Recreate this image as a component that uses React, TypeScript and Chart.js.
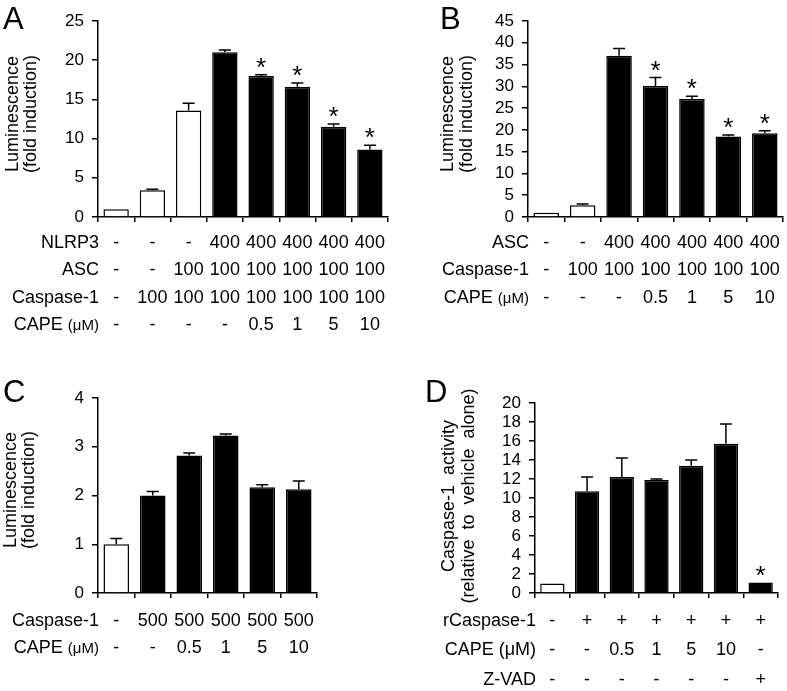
import React, { useEffect, useRef } from 'react';
import { Chart, registerables } from 'chart.js';

Chart.register(...registerables);

const FONT = '"Liberation Sans", Arial, Helvetica, sans-serif';

// ---------- Panel A ----------
const aCategories = ['1', '2', '3', '4', '5', '6', '7', '8'];
const aValues = [1.0, 3.4, 13.6, 21.0, 18.0, 16.6, 11.5, 8.6];
const aErrors = [0, 0.15, 0.9, 0.3, 0.15, 0.5, 0.35, 0.55];
const aFilled = [false, false, false, true, true, true, true, true];
const aStars = [false, false, false, false, true, true, true, true];
const aNLRP3 = ['-', '-', '-', '400', '400', '400', '400', '400'];
const aASC = ['-', '-', '100', '100', '100', '100', '100', '100'];
const aCasp = ['-', '100', '100', '100', '100', '100', '100', '100'];
const aCAPE = ['-', '-', '-', '-', '0.5', '1', '5', '10'];

// ---------- Panel B ----------
const bCategories = ['1', '2', '3', '4', '5', '6', '7'];
const bValues = [1.0, 2.7, 37.0, 30.1, 27.1, 18.5, 19.2];
const bErrors = [0, 0.3, 1.7, 1.9, 0.6, 0.3, 0.6];
const bFilled = [false, false, true, true, true, true, true];
const bStars = [false, false, false, true, true, true, true];
const bASC = ['-', '-', '400', '400', '400', '400', '400'];
const bCasp = ['-', '100', '100', '100', '100', '100', '100'];
const bCAPE = ['-', '-', '-', '0.5', '1', '5', '10'];

// ---------- Panel C ----------
const cCategories = ['1', '2', '3', '4', '5', '6'];
const cValues = [1.0, 2.0, 2.82, 3.23, 2.17, 2.13];
const cErrors = [0.12, 0.08, 0.05, 0.03, 0.05, 0.17];
const cFilled = [false, true, true, true, true, true];
const cStars = [false, false, false, false, false, false];
const cCasp = ['-', '500', '500', '500', '500', '500'];
const cCAPE = ['-', '-', '0.5', '1', '5', '10'];

// ---------- Panel D ----------
const dCategories = ['1', '2', '3', '4', '5', '6', '7'];
const dValues = [1.0, 10.7, 12.2, 11.9, 13.4, 15.7, 1.1];
const dErrors = [0, 1.5, 2.0, 0.1, 0.6, 2.1, 0];
const dFilled = [false, true, true, true, true, true, true];
const dStars = [false, false, false, false, false, false, true];
const dRCasp = ['-', '+', '+', '+', '+', '+', '+'];
const dCAPE = ['-', '-', '0.5', '1', '5', '10', '-'];
const dZVAD = ['-', '-', '-', '-', '-', '-', '+'];

type Row = { label: string; sub?: string; values: string[] };

interface PanelSpec {
  letter: string;
  letterPos: [number, number];
  left: number;
  top: number;
  width: number;
  height: number;
  area: { left: number; right: number; top: number; bottom: number };
  categories: string[];
  values: number[];
  errors: number[];
  filled: boolean[];
  stars: boolean[];
  yMax: number;
  yStep: number;
  rows: Row[];
  rowOffsets: number[];
  titleLines: string[];
  titleX: number[];
  titleY: number;
}

const panels: PanelSpec[] = [
  {
    letter: 'A', letterPos: [3, 3],
    left: 0, top: 0, width: 395, height: 345,
    area: { left: 98, right: 388, top: 21, bottom: 217 },
    categories: aCategories, values: aValues, errors: aErrors, filled: aFilled, stars: aStars,
    yMax: 25, yStep: 5,
    rows: [
      { label: 'NLRP3', values: aNLRP3 },
      { label: 'ASC', values: aASC },
      { label: 'Caspase-1', values: aCasp },
      { label: 'CAPE ', sub: '(μM)', values: aCAPE },
    ],
    rowOffsets: [26, 53.5, 81, 108],
    titleLines: ['Luminescence', '(fold induction)'], titleX: [13, 31], titleY: 114,
  },
  {
    letter: 'B', letterPos: [440, 3],
    left: 400, top: 0, width: 387, height: 345,
    area: { left: 128, right: 383, top: 21, bottom: 217 },
    categories: bCategories, values: bValues, errors: bErrors, filled: bFilled, stars: bStars,
    yMax: 45, yStep: 5,
    rows: [
      { label: 'ASC', values: bASC },
      { label: 'Caspase-1', values: bCasp },
      { label: 'CAPE ', sub: '(μM)', values: bCAPE },
    ],
    rowOffsets: [26, 53.5, 81],
    titleLines: ['Luminescence', '(fold induction)'], titleX: [48, 67], titleY: 114,
  },
  {
    letter: 'C', letterPos: [3, 376],
    left: 0, top: 350, width: 395, height: 341,
    area: { left: 98, right: 317, top: 48, bottom: 243 },
    categories: cCategories, values: cValues, errors: cErrors, filled: cFilled, stars: cStars,
    yMax: 4, yStep: 1,
    rows: [
      { label: 'Caspase-1', values: cCasp },
      { label: 'CAPE ', sub: '(μM)', values: cCAPE },
    ],
    rowOffsets: [28, 55],
    titleLines: ['Luminescence', '(fold induction)'], titleX: [11, 29], titleY: 140,
  },
  {
    letter: 'D', letterPos: [425, 376],
    left: 400, top: 350, width: 387, height: 341,
    area: { left: 135, right: 378, top: 53, bottom: 243 },
    categories: dCategories, values: dValues, errors: dErrors, filled: dFilled, stars: dStars,
    yMax: 20, yStep: 2,
    rows: [
      { label: 'rCaspase-1', values: dRCasp },
      { label: 'CAPE (μM)', values: dCAPE },
      { label: 'Z-VAD', values: dZVAD },
    ],
    rowOffsets: [28, 57, 87],
    titleLines: ['Caspase-1  activity', '(relative  to  vehicle  alone)'], titleX: [49, 69], titleY: 146,
  },
];

const errorBarPlugin = {
  id: 'errorBars',
  afterDatasetsDraw(chart: any) {
    const ctx = chart.ctx;
    const ds = chart.data.datasets[0];
    const meta = chart.getDatasetMeta(0);
    const y = chart.scales.y;
    ctx.save();
    ctx.strokeStyle = '#000';
    ctx.fillStyle = '#000';
    ctx.lineWidth = 1.5;
    meta.data.forEach((bar: any, i: number) => {
      const e = ds.errors[i] || 0;
      const topVal = ds.data[i] + e;
      const top = y.getPixelForValue(topVal);
      if (e > 0) {
        ctx.beginPath();
        ctx.moveTo(bar.x, bar.y);
        ctx.lineTo(bar.x, top);
        ctx.moveTo(bar.x - 6, top);
        ctx.lineTo(bar.x + 6, top);
        ctx.stroke();
      }
      if (ds.stars[i]) {
        ctx.font = `26px ${FONT}`;
        ctx.textAlign = 'center';
        ctx.textBaseline = 'alphabetic';
        ctx.fillText('*', bar.x, top + 1);
      }
    });
    ctx.restore();
  },
};

const tablePlugin = {
  id: 'conditionTable',
  afterDraw(chart: any, _args: any, opts: any) {
    const ctx = chart.ctx;
    const x = chart.scales.x;
    const area = chart.chartArea;
    const rows: Row[] = opts.rows;
    const offsets: number[] = opts.offsets;
    ctx.save();
    ctx.fillStyle = '#000';
    ctx.textBaseline = 'middle';
    rows.forEach((row, r) => {
      const yy = area.bottom + offsets[r];
      const rightX = area.left + 1;
      ctx.font = `18px ${FONT}`;
      const w1 = ctx.measureText(row.label).width;
      let w2 = 0;
      if (row.sub) {
        ctx.font = `15px ${FONT}`;
        w2 = ctx.measureText(row.sub).width;
      }
      const start = rightX - w1 - w2;
      ctx.textAlign = 'left';
      ctx.font = `18px ${FONT}`;
      ctx.fillText(row.label, start, yy);
      if (row.sub) {
        ctx.font = `15px ${FONT}`;
        ctx.fillText(row.sub, start + w1, yy + 1);
      }
      ctx.font = `18px ${FONT}`;
      ctx.textAlign = 'center';
      row.values.forEach((v, i) => {
        ctx.fillText(v, x.getPixelForValue(i), yy);
      });
    });
    ctx.restore();
  },
};

const yTitlePlugin = {
  id: 'yTitle',
  afterDraw(chart: any, _args: any, opts: any) {
    const ctx = chart.ctx;
    ctx.save();
    ctx.fillStyle = '#000';
    ctx.font = `18px ${FONT}`;
    ctx.textAlign = 'center';
    ctx.textBaseline = 'middle';
    (opts.lines as string[]).forEach((line, i) => {
      ctx.save();
      ctx.translate(opts.xs[i], opts.y);
      ctx.rotate(-Math.PI / 2);
      ctx.fillText(line, 0, 0);
      ctx.restore();
    });
    ctx.restore();
  },
};

function Panel({ spec }: { spec: PanelSpec }) {
  const ref = useRef<HTMLCanvasElement>(null);
  useEffect(() => {
    if (!ref.current) return;
    const a = spec.area;
    const chart = new Chart(ref.current, {
      type: 'bar',
      data: {
        labels: spec.categories,
        datasets: [
          {
            data: spec.values,
            backgroundColor: spec.filled.map((f) => (f ? '#000' : '#fff')),
            borderColor: '#000',
            borderWidth: 1.5,
            barPercentage: 0.7,
            categoryPercentage: 1,
            errors: spec.errors,
            stars: spec.stars,
          } as any,
        ],
      },
      options: {
        responsive: false,
        animation: false,
        devicePixelRatio: 1,
        layout: { padding: { left: 0, top: a.top, right: spec.width - a.right, bottom: 0 } },
        plugins: {
          legend: { display: false },
          tooltip: { enabled: false },
          conditionTable: { rows: spec.rows, offsets: spec.rowOffsets },
          yTitle: { lines: spec.titleLines, xs: spec.titleX, y: spec.titleY },
        } as any,
        scales: {
          x: {
            grid: { drawOnChartArea: false, drawTicks: true, tickLength: 5, color: '#000', lineWidth: 1.5 },
            border: { color: '#000', width: 1.5 },
            ticks: { display: false },
            afterFit: (s: any) => {
              s.height = spec.height - a.bottom;
            },
          },
          y: {
            min: 0,
            max: spec.yMax,
            ticks: {
              stepSize: spec.yStep,
              autoSkip: false,
              color: '#000',
              font: { family: FONT, size: 17 },
              padding: 8,
            },
            grid: { drawOnChartArea: false, drawTicks: true, tickLength: 6, color: '#000', lineWidth: 1.5 },
            border: { color: '#000', width: 1.5 },
            afterFit: (s: any) => {
              s.width = a.left;
            },
          },
        },
      },
      plugins: [errorBarPlugin, tablePlugin, yTitlePlugin],
    });
    return () => chart.destroy();
  }, [spec]);

  return (
    <>
      <canvas
        ref={ref}
        width={spec.width}
        height={spec.height}
        style={{ position: 'absolute', left: spec.left, top: spec.top, width: spec.width, height: spec.height }}
      />
      <div
        style={{
          position: 'absolute',
          left: spec.letterPos[0],
          top: spec.letterPos[1],
          fontFamily: FONT,
          fontSize: 31,
          lineHeight: 1,
          color: '#000',
        }}
      >
        {spec.letter}
      </div>
    </>
  );
}

export default function App() {
  return (
    <div style={{ position: 'absolute', left: 0, top: 0, width: 787, height: 691, background: '#fff', overflow: 'hidden' }}>
      {panels.map((p) => (
        <Panel key={p.letter} spec={p} />
      ))}
    </div>
  );
}
